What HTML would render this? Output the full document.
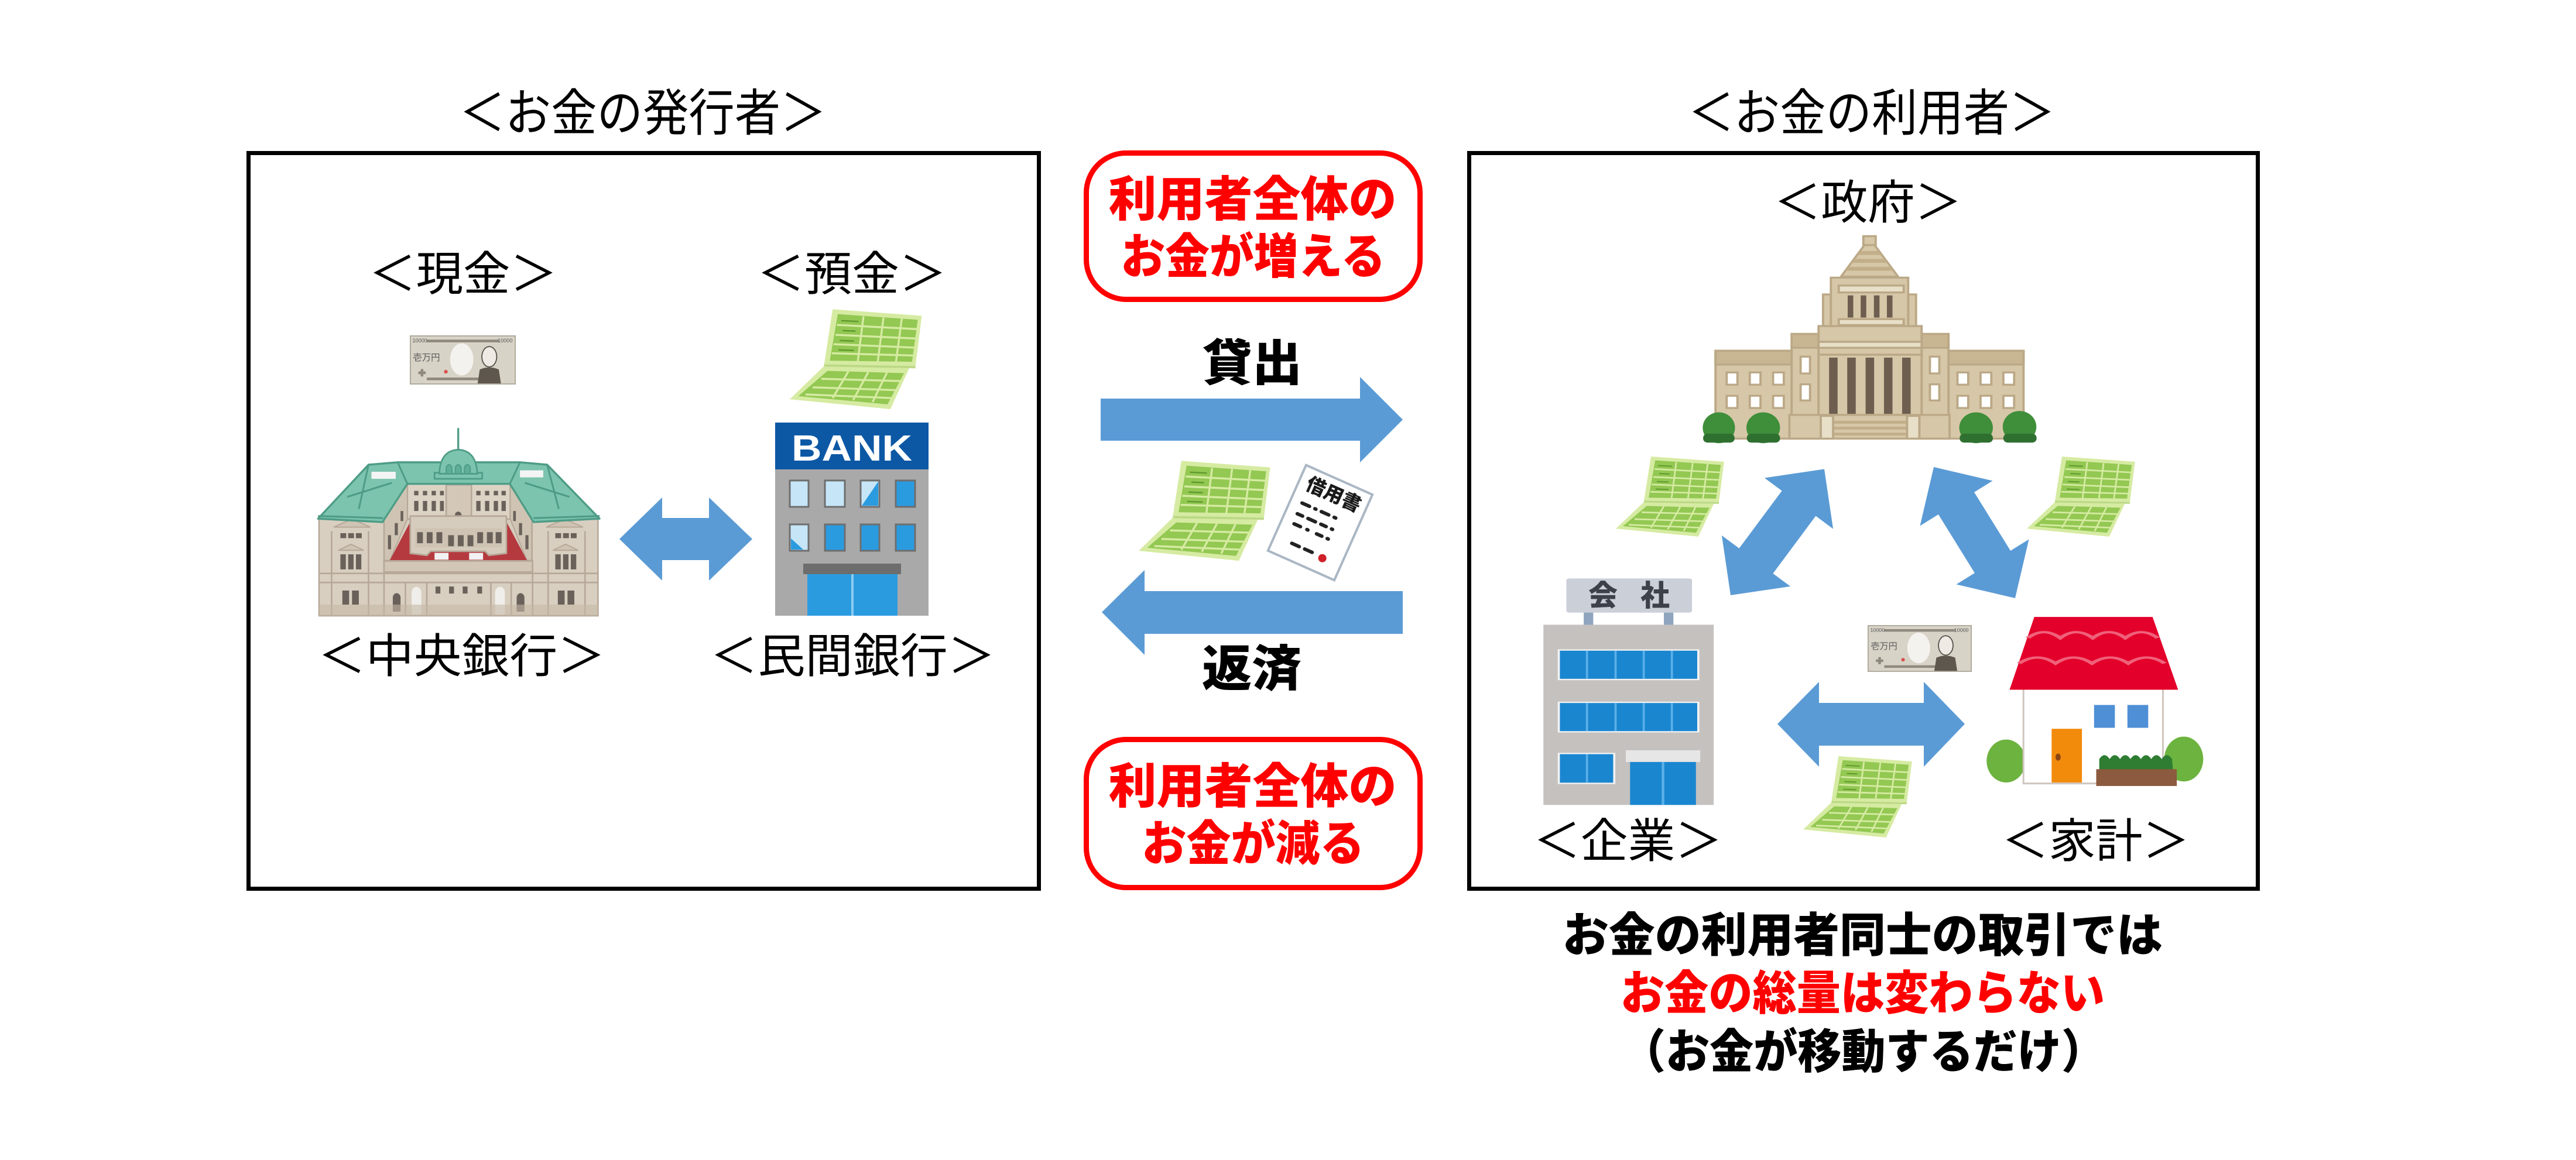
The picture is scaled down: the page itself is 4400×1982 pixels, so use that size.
<!DOCTYPE html>
<html><head><meta charset="utf-8"><style>
html,body{margin:0;padding:0;background:#fff;}
svg{display:block;}
</style></head><body>
<svg width="4400" height="1982" viewBox="0 0 4400 1982" xmlns="http://www.w3.org/2000/svg">
<defs>
<g id="pb">
 <polygon points="150,5 462,28 440,205 120,200" fill="#D6EBA2"/>
 <polygon points="168,22 448,42 428,190 140,186" fill="#93C853"/>
 <g stroke="#D6EBA2" stroke-width="7">
  <line x1="258" y1="30" x2="238" y2="188"/>
  <line x1="328" y1="34" x2="308" y2="189"/>
  <line x1="392" y1="38" x2="372" y2="189"/>
  <line x1="165" y1="60" x2="446" y2="75"/>
  <line x1="160" y1="95" x2="442" y2="108"/>
  <line x1="153" y1="128" x2="436" y2="140"/>
  <line x1="147" y1="160" x2="432" y2="168"/>
 </g>
 <g stroke="#5F9A2E" stroke-width="5">
  <line x1="180" y1="45" x2="240" y2="48"/><line x1="185" y1="80" x2="230" y2="82"/>
  <line x1="175" y1="115" x2="225" y2="117"/><line x1="170" y1="148" x2="225" y2="150"/>
 </g>
 <polygon points="120,205 418,213 352,357 0,322" fill="#D6EBA2"/>
 <polygon points="132,222 400,230 342,340 30,311" fill="#93C853"/>
 <g stroke="#D6EBA2" stroke-width="7">
  <line x1="205" y1="224" x2="150" y2="318"/>
  <line x1="275" y1="226" x2="222" y2="325"/>
  <line x1="340" y1="228" x2="290" y2="332"/>
  <line x1="110" y1="250" x2="390" y2="258"/>
  <line x1="80" y1="280" x2="375" y2="290"/>
  <line x1="55" y1="305" x2="360" y2="318"/>
 </g>
 <line x1="120" y1="203" x2="440" y2="209" stroke="#BCD886" stroke-width="8"/>
</g>
<g id="bill">
 <rect x="1" y="1" width="198" height="90" fill="#D8D3C7" stroke="#ADA79A" stroke-width="2"/>
 <rect x="32" y="8" width="136" height="5" fill="#8F897D"/>
 <rect x="32" y="79" width="136" height="5" fill="#8F897D"/>
 <text x="5" y="13" font-size="10" fill="#555" font-family="'Liberation Sans',sans-serif">10000</text>
 <text x="166" y="13" font-size="10" fill="#555" font-family="'Liberation Sans',sans-serif">10000</text>
 <text x="6" y="47" font-size="17" fill="#5a5a5a" font-family="'Liberation Sans','Noto Sans CJK JP',sans-serif">壱万円</text>
 <ellipse cx="98" cy="45" rx="22" ry="30" fill="#F4F2EE"/>
 <path d="M128,90 L132,64 Q150,56 168,64 L172,90 Z" fill="#5E574E"/>
 <ellipse cx="150" cy="40" rx="14" ry="19" fill="#EFEBE4" stroke="#55504A" stroke-width="2"/>
 <circle cx="68" cy="68" r="3.5" fill="#D9534F"/>
 <path d="M16,70 h14 M23,63 v14" stroke="#8F897D" stroke-width="5"/>
</g>
</defs>
<rect width="4400" height="1982" fill="#fff"/>

<!-- Boxes -->
<rect x="424.5" y="261.5" width="1350" height="1257" fill="none" stroke="#000" stroke-width="7"/>
<rect x="2509.5" y="261.5" width="1347" height="1257" fill="none" stroke="#000" stroke-width="7"/>
<rect x="1855.5" y="261.5" width="570" height="250" rx="68" fill="none" stroke="#FF0000" stroke-width="9"/>
<rect x="1855.5" y="1263.5" width="570" height="253" rx="68" fill="none" stroke="#FF0000" stroke-width="9"/>

<!-- Arrows -->
<g fill="#5B9BD5">
 <polygon points="1058,921 1131,850 1131,885 1211,885 1211,850 1285,921 1211,992 1211,957 1131,957 1131,992"/>
 <polygon points="1880,681 2323,681 2323,644 2396,717 2323,790 2323,753 1880,753"/>
 <polygon points="2396,1010 1955,1010 1955,974 1882,1046 1955,1119 1955,1083 2396,1083"/>
 <polygon points="3036,1237 3107,1165 3107,1201 3286,1201 3286,1165 3356,1237 3286,1310 3286,1274 3107,1274 3107,1310"/>
 <polygon points="2956,1017 3058.1,1001.9 3028.4,979.9 3101.4,881.6 3131.1,903.6 3116,801.5 3013.9,816.6 3043.6,838.6 2970.6,936.9 2940.9,914.9"/>
 <polygon points="3303,798 3279.5,898.5 3310.9,879 3372.9,979 3341.5,998.5 3442,1022 3465.5,921.5 3434.1,941 3372.1,841 3403.5,821.5"/>
</g>

<!-- Central bank -->
<g transform="translate(530,708) scale(0.3316,0.344)">
 <rect x="375" y="335" width="770" height="400" fill="#D6CCBD"/>
 <rect x="500" y="340" width="530" height="180" fill="#DCD3C5" stroke="#B7A999" stroke-width="8"/>
 <rect x="700" y="350" width="130" height="175" fill="#D3C8B8" stroke="#B7A999" stroke-width="8"/>
 <path d="M745,525 v-25 a17,17 0 0 1 34,0 v25z" fill="#6A625A"/>
 <g fill="#6A625A">
  <rect x="535" y="380" width="22" height="22"/><rect x="580" y="380" width="22" height="22"/><rect x="625" y="380" width="22" height="22"/><rect x="668" y="380" width="20" height="22"/>
  <rect x="855" y="380" width="22" height="22"/><rect x="900" y="380" width="22" height="22"/><rect x="945" y="380" width="22" height="22"/><rect x="985" y="380" width="22" height="22"/>
  <rect x="535" y="430" width="22" height="50"/><rect x="580" y="430" width="22" height="50"/><rect x="625" y="430" width="22" height="50"/><rect x="668" y="430" width="20" height="50"/>
  <rect x="855" y="430" width="22" height="50"/><rect x="900" y="430" width="22" height="50"/><rect x="945" y="430" width="22" height="50"/><rect x="985" y="430" width="22" height="50"/>
 </g>
 <polygon points="375,530 500,340 500,520 410,725 380,725" fill="#CFC4B3" stroke="#B7A999" stroke-width="6"/>
 <polygon points="1145,530 1030,340 1030,520 1115,725 1142,725" fill="#CFC4B3" stroke="#B7A999" stroke-width="6"/>
 <g fill="#6A625A">
  <rect x="400" y="600" width="16" height="70"/><rect x="435" y="540" width="16" height="60"/><rect x="465" y="480" width="14" height="50"/>
  <rect x="1108" y="600" width="16" height="70"/><rect x="1075" y="540" width="16" height="60"/><rect x="1045" y="480" width="14" height="50"/>
 </g>
 <polygon points="408,728 525,515 1000,515 1118,728" fill="#B53A3F"/>
 <path d="M515,505 L1010,505 L1010,690 L920,700 L900,680 L620,680 L600,700 L515,690 Z" fill="#D6CCBD" stroke="#B7A999" stroke-width="8"/>
 <rect x="540" y="565" width="450" height="95" fill="#CFC4B4"/>
 <g fill="#6A625A">
  <rect x="550" y="585" width="30" height="55"/><rect x="600" y="585" width="30" height="55"/><rect x="650" y="585" width="30" height="55"/><rect x="710" y="600" width="30" height="55"/><rect x="760" y="600" width="30" height="55"/><rect x="810" y="600" width="30" height="55"/><rect x="860" y="585" width="30" height="55"/><rect x="910" y="585" width="30" height="55"/><rect x="955" y="585" width="30" height="55"/>
 </g>
 <rect x="640" y="688" width="72" height="34" fill="#F2F2F2"/>
 <rect x="818" y="688" width="72" height="34" fill="#F2F2F2"/>
 <rect x="45" y="515" width="335" height="485" fill="#D9CFC1" stroke="#B7A999" stroke-width="8"/>
 <rect x="1142" y="515" width="340" height="485" fill="#D9CFC1" stroke="#B7A999" stroke-width="8"/>
 <polygon points="120,560 215,520 310,560" fill="#CFC4B3" stroke="#B7A999" stroke-width="6"/>
 <polygon points="1215,560 1310,520 1405,560" fill="#CFC4B3" stroke="#B7A999" stroke-width="6"/>
 <polygon points="145,675 210,645 275,675" fill="#CFC4B3" stroke="#B7A999" stroke-width="6"/>
 <polygon points="1250,675 1315,645 1380,675" fill="#CFC4B3" stroke="#B7A999" stroke-width="6"/>
 <rect x="380" y="728" width="765" height="272" fill="#D9CFC1" stroke="#B7A999" stroke-width="8"/>
 <rect x="380" y="728" width="765" height="55" fill="#D2C7B7" stroke="#B7A999" stroke-width="8"/>
 <g stroke="#B7A999" stroke-width="8">
  <line x1="45" y1="790" x2="1482" y2="790"/>
  <line x1="45" y1="835" x2="1482" y2="835"/>
  <line x1="110" y1="580" x2="110" y2="1000"/><line x1="300" y1="580" x2="300" y2="1000"/>
  <line x1="1225" y1="580" x2="1225" y2="1000"/><line x1="1415" y1="580" x2="1415" y2="1000"/>
  <line x1="490" y1="835" x2="490" y2="1000"/><line x1="600" y1="835" x2="600" y2="1000"/><line x1="930" y1="835" x2="930" y2="1000"/><line x1="1035" y1="835" x2="1035" y2="1000"/>
 </g>
 <g fill="#6A625A">
  <rect x="155" y="590" width="30" height="25"/><rect x="195" y="590" width="30" height="25"/><rect x="235" y="590" width="30" height="25"/>
  <rect x="155" y="695" width="28" height="75"/><rect x="195" y="695" width="28" height="75"/><rect x="235" y="695" width="28" height="75"/>
  <rect x="165" y="875" width="35" height="70"/><rect x="215" y="875" width="35" height="70"/>
  <rect x="1262" y="590" width="30" height="25"/><rect x="1302" y="590" width="30" height="25"/><rect x="1342" y="590" width="30" height="25"/>
  <rect x="1262" y="695" width="28" height="75"/><rect x="1302" y="695" width="28" height="75"/><rect x="1342" y="695" width="28" height="75"/>
  <rect x="1275" y="875" width="35" height="70"/><rect x="1325" y="875" width="35" height="70"/>
  <path d="M425,980 v-70 a20,22 0 0 1 40,0 v70z"/>
  <path d="M1063,980 v-70 a20,22 0 0 1 40,0 v70z"/>
  <rect x="715" y="855" width="25" height="35"/><rect x="785" y="855" width="25" height="35"/><rect x="860" y="855" width="25" height="35"/><rect x="645" y="855" width="25" height="35"/>
 </g>
 <path d="M522,995 v-110 a25,28 0 0 1 50,0 v110z" fill="#F0EEEA"/>
 <path d="M952,995 v-110 a25,28 0 0 1 50,0 v110z" fill="#F0EEEA"/>
 <rect x="45" y="945" width="1437" height="55" fill="#C5B7A5" opacity="0.6"/>
 <polygon points="40,518 300,250 450,238 1080,238 1220,250 1490,518 1150,535 1028,345 500,345 372,535" fill="#7CC4AD" stroke="#4E9C86" stroke-width="10" stroke-linejoin="round"/>
 <g stroke="#4E9C86" stroke-width="9" fill="none">
  <line x1="450" y1="238" x2="500" y2="345"/><line x1="1080" y1="238" x2="1028" y2="345"/>
  <line x1="190" y1="410" x2="420" y2="340"/><line x1="1335" y1="410" x2="1105" y2="340"/>
  <line x1="40" y1="505" x2="375" y2="515"/><line x1="1150" y1="515" x2="1490" y2="505"/>
  <line x1="300" y1="250" x2="250" y2="470"/><line x1="1220" y1="250" x2="1280" y2="470"/>
 </g>
 <rect x="315" y="285" width="125" height="35" fill="#F4F4F4"/>
 <rect x="1080" y="278" width="120" height="35" fill="#F4F4F4"/>
 <rect x="640" y="290" width="245" height="30" fill="#7CC4AD" stroke="#4E9C86" stroke-width="8"/>
 <path d="M665,295 Q668,180 762,175 Q856,180 860,295 Z" fill="#7CC4AD" stroke="#4E9C86" stroke-width="8"/>
 <g fill="#5FAE97" stroke="#4E9C86" stroke-width="6">
  <path d="M700,295 v-25 a15,20 0 0 1 30,0 v25z"/><path d="M747,295 v-25 a15,20 0 0 1 30,0 v25z"/><path d="M794,295 v-25 a15,20 0 0 1 30,0 v25z"/>
 </g>
 <line x1="762" y1="68" x2="762" y2="180" stroke="#4E9C86" stroke-width="10"/>
</g>

<!-- BANK building -->
<rect x="1324" y="800" width="262" height="252" fill="#A9A9AA"/>
<rect x="1324" y="722" width="262" height="80" fill="#0D58A5"/>
<text x="1352" y="787" font-size="62" font-weight="900" fill="#fff" textLength="206" lengthAdjust="spacingAndGlyphs" font-family="'Liberation Sans',sans-serif">BANK</text>
<g stroke="#6E6E6E" stroke-width="3">
 <rect x="1349" y="821" width="32" height="45" fill="#C6E6F8"/>
 <rect x="1409" y="821" width="34" height="45" fill="#C6E6F8"/>
 <rect x="1470" y="821" width="32" height="45" fill="#C6E6F8"/>
 <rect x="1530" y="821" width="33" height="45" fill="#2B9BE0"/>
 <rect x="1349" y="896" width="32" height="45" fill="#C6E6F8"/>
 <rect x="1409" y="896" width="34" height="45" fill="#2B9BE0"/>
 <rect x="1470" y="896" width="32" height="45" fill="#2B9BE0"/>
 <rect x="1530" y="896" width="33" height="45" fill="#2B9BE0"/>
</g>
<polygon points="1472,864 1500,823 1500,864" fill="#2B9BE0"/>
<polygon points="1351,939 1372,939 1351,920" fill="#2B9BE0"/>
<rect x="1372" y="963" width="167" height="18" fill="#6D6D6D"/>
<rect x="1379" y="981" width="154" height="71" fill="#2B9BE0"/>
<rect x="1454" y="981" width="4" height="71" fill="#8CCBF0"/>

<!-- Passbooks & bills -->
<use href="#pb" transform="translate(1349,526) scale(0.488,0.485)"/>
<use href="#pb" transform="translate(1945,785) scale(0.486,0.485)"/>
<use href="#pb" transform="translate(2760,778) scale(0.4,0.389)"/>
<use href="#pb" transform="translate(3462,778) scale(0.4,0.389)"/>
<use href="#bill" transform="translate(700,573) scale(0.905,0.913)"/>
<use href="#bill" transform="translate(3190,1068) scale(0.89,0.87)"/>

<!-- 借用書 -->
<g transform="translate(2255,893) rotate(24)">
 <rect x="-62" y="-80" width="124" height="160" fill="#fff" stroke="#AAB7C4" stroke-width="4"/>
 <text x="-48" y="-42" font-size="33" font-weight="900" fill="#1a1a1a" font-family="'Liberation Sans','Noto Sans CJK JP',sans-serif">借用書</text>
 <g stroke="#222" stroke-width="6" stroke-linecap="round">
  <path d="M-42,-18 h14 M-18,-18 h2 M-6,-18 h14 M18,-18 h3"/>
  <path d="M-42,2 h10 M-22,2 h14 M2,2 h10 M22,2 h2"/>
  <path d="M-40,20 h12 M-16,20 h2 M2,20 h10 M22,20 h2"/>
  <path d="M-30,52 h14 M-6,52 h14"/>
 </g>
 <circle cx="28" cy="54" r="7" fill="#D0202A"/>
</g>

<!-- Diet building -->
<g transform="translate(2890,390) scale(0.3827,0.3375)" stroke="#BBA886" stroke-width="10" fill="#D6C7A8">
 <rect x="105" y="620" width="340" height="445"/>
 <rect x="1145" y="620" width="335" height="445"/>
 <rect x="105" y="620" width="340" height="70" fill="#C8B693"/>
 <rect x="1145" y="620" width="335" height="70" fill="#C8B693"/>
 <g fill="#fff">
  <rect x="155" y="730" width="48" height="62"/><rect x="258" y="730" width="48" height="62"/><rect x="362" y="730" width="48" height="62"/>
  <rect x="155" y="848" width="48" height="62"/><rect x="258" y="848" width="48" height="62"/><rect x="362" y="848" width="48" height="62"/>
  <rect x="1185" y="730" width="48" height="62"/><rect x="1288" y="730" width="48" height="62"/><rect x="1390" y="730" width="48" height="62"/>
  <rect x="1185" y="848" width="48" height="62"/><rect x="1288" y="848" width="48" height="62"/><rect x="1390" y="848" width="48" height="62"/>
 </g>
 <rect x="445" y="535" width="120" height="530"/>
 <rect x="1025" y="535" width="120" height="530"/>
 <rect x="445" y="535" width="120" height="70" fill="#C8B693"/>
 <rect x="1025" y="535" width="120" height="70" fill="#C8B693"/>
 <g fill="#fff">
  <rect x="485" y="650" width="42" height="85"/><rect x="485" y="790" width="42" height="82"/>
  <rect x="1062" y="650" width="42" height="85"/><rect x="1062" y="790" width="42" height="82"/>
 </g>
 <rect x="565" y="640" width="460" height="310"/>
 <g fill="#6E5E50" stroke="none">
  <rect x="612" y="655" width="38" height="285"/><rect x="693" y="655" width="38" height="285"/><rect x="775" y="655" width="38" height="285"/><rect x="857" y="655" width="38" height="285"/><rect x="938" y="655" width="38" height="285"/>
 </g>
 <rect x="565" y="495" width="460" height="145"/>
 <rect x="565" y="575" width="460" height="30" fill="#E8DFC8"/>
 <rect x="585" y="335" width="35" height="160"/>
 <rect x="965" y="335" width="35" height="160"/>
 <rect x="620" y="250" width="345" height="245"/>
 <rect x="655" y="290" width="290" height="35" fill="#E8DFC8"/>
 <rect x="655" y="460" width="290" height="30" fill="#E8DFC8"/>
 <g fill="#6E5E50" stroke="none">
  <rect x="695" y="340" width="25" height="112"/><rect x="753" y="340" width="25" height="112"/><rect x="812" y="340" width="25" height="112"/><rect x="870" y="340" width="25" height="112"/>
 </g>
 <polygon points="770,85 815,85 920,245 665,245"/>
 <g stroke="none" fill="#C2AF8A">
  <polygon points="752,115 833,115 845,135 740,135"/>
  <polygon points="727,155 858,155 871,175 714,175"/>
  <polygon points="700,195 885,195 898,215 688,215"/>
 </g>
 <rect x="765" y="40" width="55" height="45"/>
 <rect x="435" y="945" width="715" height="120"/>
 <rect x="575" y="950" width="55" height="115" fill="#E8DFC8"/>
 <rect x="960" y="950" width="55" height="115" fill="#E8DFC8"/>
 <g stroke="none" fill="#C2AF8A">
  <rect x="635" y="975" width="320" height="14"/><rect x="635" y="1005" width="320" height="14"/><rect x="635" y="1035" width="320" height="14"/>
 </g>
 <g stroke="none" fill="#3F8E3A">
  <ellipse cx="120" cy="1010" rx="72" ry="78"/><ellipse cx="318" cy="1010" rx="75" ry="78"/>
  <ellipse cx="1268" cy="1010" rx="75" ry="78"/><ellipse cx="1462" cy="1005" rx="75" ry="80"/>
 </g>
 <g stroke="none" fill="#2F7030">
  <rect x="50" y="1040" width="140" height="45" rx="20"/><rect x="245" y="1040" width="148" height="45" rx="20"/>
  <rect x="1195" y="1040" width="148" height="45" rx="20"/><rect x="1390" y="1040" width="148" height="45" rx="20"/>
 </g>
</g>

<!-- Company & House -->
<g transform="translate(2620,970) scale(0.74,0.3336)">
 <rect x="115" y="225" width="22" height="75" fill="#8EA5BD"/>
 <rect x="300" y="225" width="22" height="75" fill="#8EA5BD"/>
 <rect x="75" y="55" width="290" height="175" rx="8" fill="#CBCFD8"/>
 <rect x="22" y="292" width="393" height="923" fill="#C4C1BF"/>
 <rect x="55" y="418" width="327" height="158" fill="#F2F2F2"/>
 <rect x="60" y="425" width="317" height="144" fill="#1A86D0"/>
 <rect x="55" y="686" width="327" height="158" fill="#F2F2F2"/>
 <rect x="60" y="693" width="317" height="144" fill="#1A86D0"/>
 <rect x="55" y="948" width="133" height="160" fill="#F2F2F2"/>
 <rect x="60" y="955" width="123" height="146" fill="#1A86D0"/>
 <g fill="#5BB0E8">
  <rect x="120" y="425" width="5" height="144"/><rect x="186" y="425" width="5" height="144"/><rect x="251" y="425" width="5" height="144"/><rect x="316" y="425" width="5" height="144"/>
  <rect x="120" y="693" width="5" height="144"/><rect x="186" y="693" width="5" height="144"/><rect x="251" y="693" width="5" height="144"/><rect x="316" y="693" width="5" height="144"/>
  <rect x="120" y="955" width="5" height="146"/>
 </g>
 <rect x="212" y="935" width="172" height="60" fill="#E6E6E6"/>
 <rect x="222" y="995" width="152" height="220" fill="#1A86D0"/>
 <rect x="295" y="995" width="6" height="220" fill="#5BB0E8"/>
 <!-- house -->
 <ellipse cx="1090" cy="990" rx="45" ry="110" fill="#6DB33F"/>
 <ellipse cx="1500" cy="980" rx="45" ry="115" fill="#6DB33F"/>
 <rect x="1130" y="620" width="322" height="485" fill="#fff" stroke="#CFC6BE" stroke-width="3" vector-effect="non-scaling-stroke"/>
 <polygon points="1155,252 1428,252 1487,625 1098,625" fill="#E3002A"/>
 <path d="M1140,360 q37,-60 75,0 q37,-60 75,0 q37,-60 75,0 q37,-60 75,0" fill="none" stroke="#F0607A" stroke-width="12"/>
 <path d="M1120,490 q42,-60 84,0 q42,-60 84,0 q42,-60 84,0 q42,-60 84,0" fill="none" stroke="#F0607A" stroke-width="12"/>
 <rect x="1293" y="703" width="48" height="117" fill="#4E8FD6"/>
 <rect x="1370" y="703" width="48" height="117" fill="#4E8FD6"/>
 <rect x="1195" y="825" width="70" height="275" fill="#F28A0B"/>
 <ellipse cx="1210" cy="970" rx="6" ry="18" fill="#8B4513"/>
 <path d="M1305,1035 L1305,980 q12,-40 24,0 q12,-40 24,0 q12,-40 24,0 q12,-40 24,0 q12,-40 24,0 q12,-40 24,0 q12,-40 24,0 L1475,1035 Z" fill="#2E7D32"/>
 <rect x="1298" y="1032" width="186" height="86" fill="#8C5B3F"/>
</g>
<use href="#pb" transform="translate(3080,1290) scale(0.402,0.395)"/>
<text x="2738" y="1035" font-size="50" font-weight="900" fill="#3D424A" text-anchor="middle" font-family="'Liberation Sans','Noto Sans CJK JP',sans-serif">会</text>
<text x="2827" y="1035" font-size="50" font-weight="900" fill="#3D424A" text-anchor="middle" font-family="'Liberation Sans','Noto Sans CJK JP',sans-serif">社</text>

<!-- Labels -->
<g font-family="'Liberation Sans','Noto Sans CJK JP',sans-serif" fill="#000" lengthAdjust="spacingAndGlyphs">
 <text x="784.5" y="223" font-size="86" textLength="627" lengthAdjust="spacingAndGlyphs">＜お金の発行者＞</text>
 <text x="2883.5" y="223" font-size="86" textLength="627" lengthAdjust="spacingAndGlyphs">＜お金の利用者＞</text>
 <text x="630" y="496" font-size="80" textLength="322" lengthAdjust="spacingAndGlyphs">＜現金＞</text>
 <text x="1293" y="496" font-size="80" textLength="324" lengthAdjust="spacingAndGlyphs">＜預金＞</text>
 <text x="543" y="1149" font-size="80" textLength="491" lengthAdjust="spacingAndGlyphs">＜中央銀行＞</text>
 <text x="1213" y="1149" font-size="80" textLength="487" lengthAdjust="spacingAndGlyphs">＜民間銀行＞</text>
 <text x="3030" y="374" font-size="80" textLength="321" lengthAdjust="spacingAndGlyphs">＜政府＞</text>
 <text x="2619" y="1465" font-size="80" textLength="323" lengthAdjust="spacingAndGlyphs">＜企業＞</text>
 <text x="3419" y="1465" font-size="80" textLength="321" lengthAdjust="spacingAndGlyphs">＜家計＞</text>
</g>
<g font-family="'Liberation Sans','Noto Sans CJK JP',sans-serif" font-weight="900">
 <text x="1893.5" y="369" font-size="82" fill="#FF0000" textLength="492" lengthAdjust="spacingAndGlyphs">利用者全体の</text>
 <text x="1914.5" y="467" font-size="82" fill="#FF0000" textLength="452" lengthAdjust="spacingAndGlyphs">お金が増える</text>
 <text x="2054" y="650" font-size="84" fill="#000" textLength="170" lengthAdjust="spacingAndGlyphs">貸出</text>
 <text x="2053" y="1172" font-size="84" fill="#000" textLength="170" lengthAdjust="spacingAndGlyphs">返済</text>
 <text x="1893.5" y="1372" font-size="82" fill="#FF0000" textLength="492" lengthAdjust="spacingAndGlyphs">利用者全体の</text>
 <text x="1950.5" y="1470" font-size="82" fill="#FF0000" textLength="380" lengthAdjust="spacingAndGlyphs">お金が減る</text>
 <text x="2669" y="1626" font-size="80" fill="#000" textLength="1025" lengthAdjust="spacingAndGlyphs">お金の利用者同士の取引では</text>
 <text x="2768" y="1725" font-size="80" fill="#FF0000" textLength="827" lengthAdjust="spacingAndGlyphs">お金の総量は変わらない</text>
 <text x="2770" y="1825" font-size="80" fill="#000" textLength="826" lengthAdjust="spacingAndGlyphs">（お金が移動するだけ）</text>
</g>
</svg>
</body></html>
